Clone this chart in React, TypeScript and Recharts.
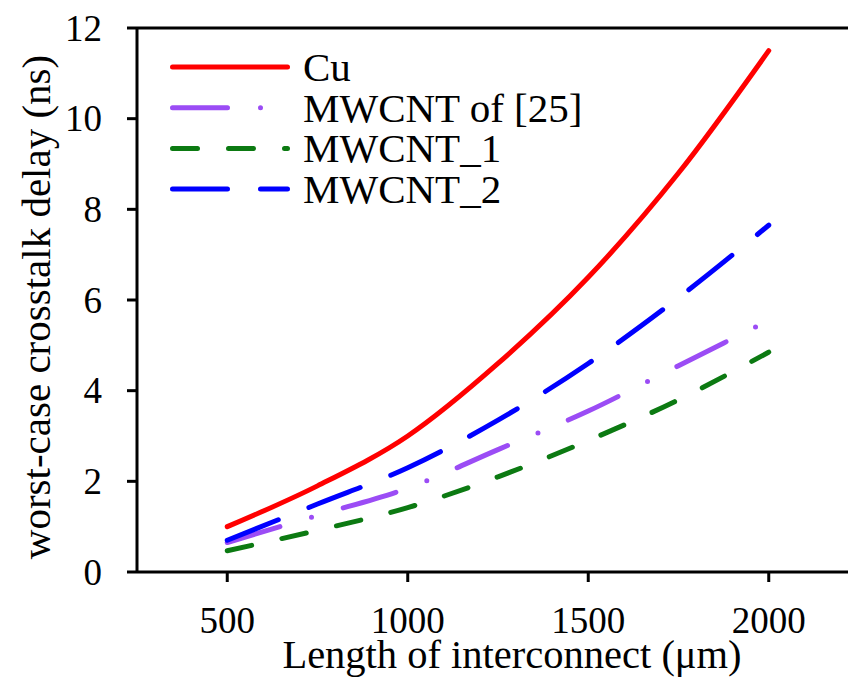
import { LineChart, Line, XAxis, YAxis, ReferenceLine, Legend } from 'recharts';

const lengths = [500, 750, 1000, 1250, 1500, 1750, 2000];
const cu = [1.0, 1.9, 3.0, 4.6, 6.5, 8.8, 11.5];
const mwcnt25 = [0.65, 1.25, 1.85, 2.7, 3.55, 4.55, 5.55];
const mwcnt1 = [0.47, 0.92, 1.42, 2.1, 2.9, 3.8, 4.85];
const mwcnt2 = [0.7, 1.5, 2.3, 3.35, 4.6, 6.05, 7.65];

const xTicks = [500, 1000, 1500, 2000];
const yTicks = [0, 2, 4, 6, 8, 10, 12];

const data = lengths.map((len, i) => ({
  len,
  cu: cu[i],
  mwcnt25: mwcnt25[i],
  mwcnt1: mwcnt1[i],
  mwcnt2: mwcnt2[i],
}));

const SERIES = [
  { key: 'cu', name: 'Cu', color: '#ff0000', dash: undefined },
  { key: 'mwcnt25', name: 'MWCNT of [25]', color: '#9b4cf5', dash: '55 33 0 33' },
  { key: 'mwcnt1', name: 'MWCNT_1', color: '#0c7a12', dash: '25 31' },
  { key: 'mwcnt2', name: 'MWCNT_2', color: '#0000ff', dash: '55 33' },
];

const FONT = "'Liberation Serif', serif";
const txt = { fontFamily: FONT, fill: '#000' };

// tick renderers so the serif font is applied through style
const XTick = ({ x, y, payload }: any) => (
  <text x={x} y={y + 51} textAnchor="middle" style={{ ...txt, fontSize: 37 }}>
    {payload.value}
  </text>
);

const YTick = ({ x, y, payload }: any) => (
  <text x={x} y={y} textAnchor="end" dominantBaseline="central" style={{ ...txt, fontSize: 37 }}>
    {payload.value}
  </text>
);

const renderLegend = () => (
  <svg width={460} height={175}>
    {SERIES.map((s, i) => {
      const y = 25 + i * 40.7;
      return (
        <g key={s.key}>
          <line
            x1={7.5}
            x2={122.5}
            y1={y}
            y2={y}
            stroke={s.color}
            strokeWidth={5}
            strokeLinecap="round"
            strokeDasharray={s.dash}
          />
          <text x={138} y={y} dominantBaseline="central" style={{ ...txt, fontSize: 41 }}>
            {s.name}
          </text>
        </g>
      );
    })}
  </svg>
);

export default function App() {
  return (
    <div style={{ position: 'absolute', left: 0, top: 0, width: 848, height: 678, overflow: 'hidden', background: '#fff', fontFamily: FONT }}>
      <LineChart
        width={880}
        height={678}
        data={data}
        margin={{ top: 28, right: 21, bottom: 0, left: 57 }}
      >
        <XAxis
          dataKey="len"
          type="number"
          domain={[250, 2250]}
          ticks={xTicks}
          height={106}
          tickSize={10}
          tickMargin={0}
          axisLine={{ stroke: '#000', strokeWidth: 3 }}
          tickLine={{ stroke: '#000', strokeWidth: 3 }}
          tick={<XTick />}
          label={{
            content: () => (
              <text x={512} y={668} textAnchor="middle" style={{ ...txt, fontSize: 40.5 }}>
                Length of interconnect (μm)
              </text>
            ),
          }}
        />
        <YAxis
          type="number"
          domain={[0, 12]}
          ticks={yTicks}
          width={80}
          tickSize={10}
          tickMargin={25}
          axisLine={{ stroke: '#000', strokeWidth: 3 }}
          tickLine={{ stroke: '#000', strokeWidth: 3 }}
          tick={<YTick />}
          label={{
            content: () => (
              <text
                x={50}
                y={307}
                transform="rotate(-90, 50, 307)"
                textAnchor="middle"
                style={{ ...txt, fontSize: 41 }}
              >
                worst-case crosstalk delay (ns)
              </text>
            ),
          }}
        />
        <ReferenceLine y={12} stroke="#000" strokeWidth={3} />
        <Legend
          layout="vertical"
          align="center"
          verticalAlign="middle"
          content={renderLegend}
          wrapperStyle={{ position: 'absolute', left: 165, top: 42, width: 460, height: 175 }}
        />
        {SERIES.map((s) => (
          <Line
            key={s.key}
            dataKey={s.key}
            name={s.name}
            type="monotone"
            stroke={s.color}
            strokeWidth={5}
            strokeLinecap="round"
            strokeDasharray={s.dash}
            dot={false}
            activeDot={false}
            isAnimationActive={false}
          />
        ))}
      </LineChart>
    </div>
  );
}
